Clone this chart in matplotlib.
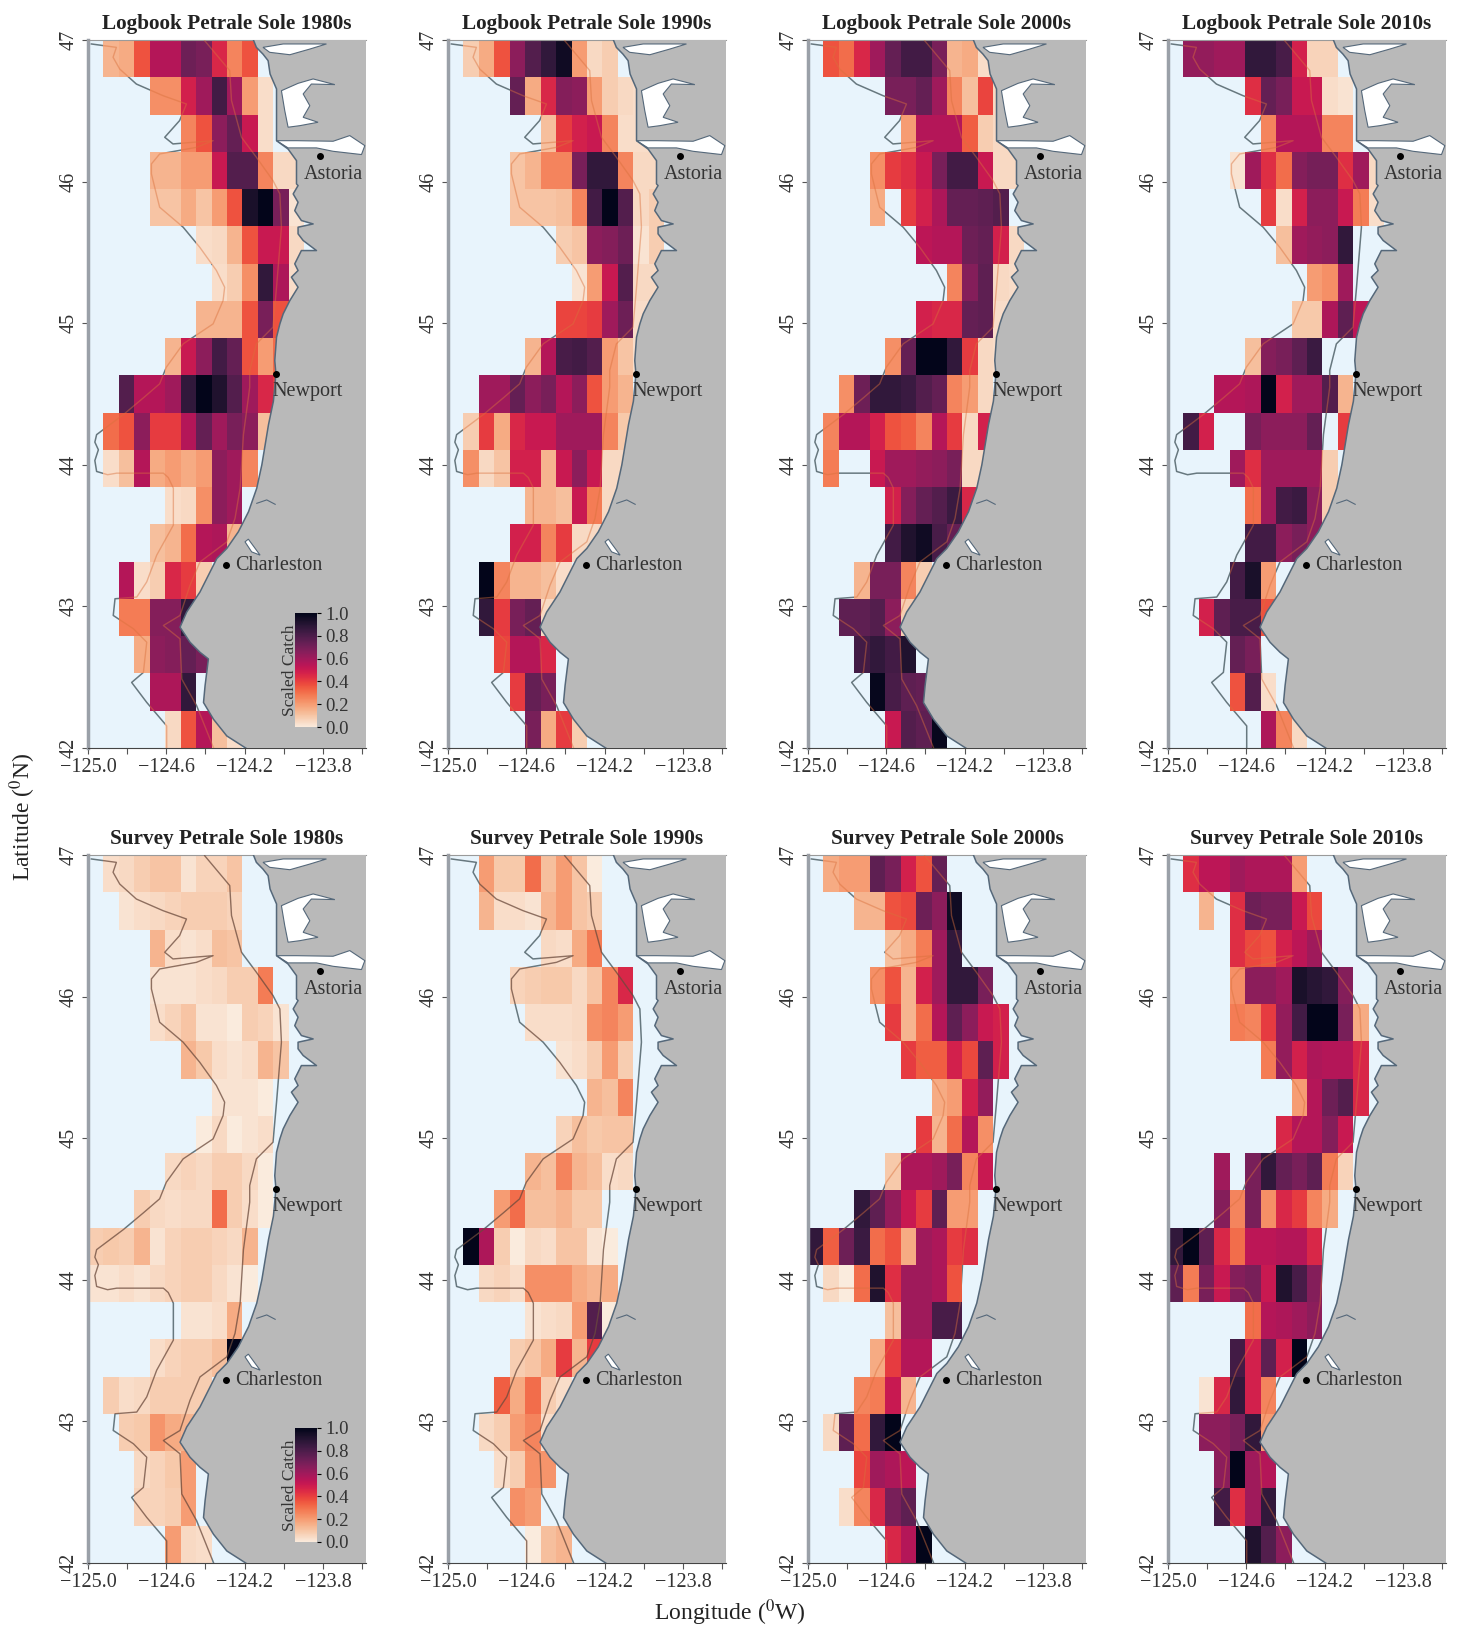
import numpy as np
import matplotlib
matplotlib.use('Agg')
import matplotlib.pyplot as plt
import seaborn as sns
from matplotlib.path import Path

plt.rcParams['font.family'] = ['Liberation Serif', 'DejaVu Serif']
plt.rcParams['mathtext.fontset'] = 'stix'

n = np.nan

# scaled catch x100, rows go north to south, columns west to east
logbook_1980s = [
 [n,10,12,30,50,50,68,65,40,20,30],
 [n,n,n,n,18,18,42,55,80,55,15,2],
 [n,n,n,n,n,n,20,30,60,70,45,2],
 [n,n,n,n,10,10,15,15,45,75,75,20,3,3],
 [n,n,n,n,7,7,12,7,15,30,92,100,65,1],
 [n,n,n,n,n,n,n,2,3,10,30,45,45,3],
 [n,n,n,n,n,n,n,n,2,5,18,85,52,2],
 [n,n,n,n,n,n,n,10,10,10,30,65,30],
 [n,n,n,n,n,10,45,60,80,70,30,15,25],
 [n,n,75,50,50,55,85,100,90,75,55,40,35],
 [n,25,30,60,35,35,50,70,55,65,60,8],
 [n,2,8,50,12,15,12,15,60,55,20],
 [n,n,n,n,n,2,3,18,60,55],
 [n,n,n,n,8,10,25,50,52,10],
 [n,n,50,2,5,40,35,5],
 [n,n,22,22,62,62,85],
 [n,n,n,12,60,62,70,65],
 [n,n,n,n,52,52,85],
 [n,n,n,n,n,3,30,50,8,2],
]
logbook_1990s = [
 [n,5,12,30,60,75,85,95,15,3,5],
 [n,n,n,n,70,12,40,62,60,15,5,3,2],
 [n,n,n,n,n,n,8,35,42,45,20,2,2],
 [n,n,n,n,7,10,20,20,65,85,85,20,3,3],
 [n,n,n,n,7,7,7,8,20,80,100,75,3,5],
 [n,n,n,n,n,n,n,5,7,60,62,68,1,5],
 [n,n,n,n,n,n,n,n,1,15,45,75,3,3],
 [n,n,n,n,n,n,n,33,33,35,55,68,2],
 [n,n,n,n,n,10,50,78,80,75,15,7,2],
 [n,n,55,55,70,60,65,50,60,30,15,10],
 [n,5,35,12,40,45,45,55,55,55,20,6],
 [n,18,3,7,42,42,10,45,60,45,3,3],
 [n,n,n,n,n,10,10,8,45,22,3],
 [n,n,n,n,42,42,20,35,3,3],
 [n,n,100,20,10,10,8,2],
 [n,n,85,35,65,70,3],
 [n,n,n,33,50,50,40],
 [n,n,n,n,35,70,65],
 [n,n,n,n,n,65,12,35,5],
]
logbook_2000s = [
 [n,30,25,40,55,70,80,80,65,10,12,2],
 [n,n,n,n,n,65,65,70,55,20,8,33,3],
 [n,n,n,n,n,n,15,50,50,50,28,5,3],
 [n,n,n,n,18,35,38,45,65,80,80,45,3,3],
 [n,n,n,n,12,n,35,42,52,70,70,72,75],
 [n,n,n,n,n,n,n,48,50,50,68,70,42,3],
 [n,n,n,n,n,n,n,n,n,20,62,72,3,2],
 [n,n,n,n,n,n,n,42,40,40,70,72,2],
 [n,n,n,n,n,18,70,100,100,85,35,3,2],
 [n,n,18,68,85,85,82,75,70,20,15,3],
 [n,20,50,50,42,30,28,20,50,35,3,42],
 [n,22,n,n,45,55,55,58,60,65,3,3],
 [n,n,n,n,n,42,62,70,75,82,40],
 [n,n,n,n,n,80,90,95,78,70],
 [n,n,n,10,65,65,20,5],
 [n,n,72,72,75,60,5],
 [n,n,n,80,85,80,90],
 [n,n,n,n,98,78,72,70],
 [n,n,n,n,n,45,75,72,98],
]
logbook_2010s = [
 [n,58,58,55,55,85,85,78,42,4,4],
 [n,n,n,n,n,38,70,65,45,45,2,1],
 [n,n,n,n,n,n,20,50,50,50,20,20],
 [n,n,n,n,1,55,38,25,62,66,66,38,55,3],
 [n,n,n,n,n,n,35,2,42,60,60,45,22,2],
 [n,n,n,n,n,n,n,8,55,58,60,85],
 [n,n,n,n,n,n,n,n,n,15,18,55],
 [n,n,n,n,n,n,n,n,6,6,52,72,48],
 [n,n,n,n,n,8,62,65,72,82],
 [n,n,n,50,50,52,100,42,55,55,75,10],
 [n,80,42,n,n,65,60,60,60,70,n,35],
 [n,n,n,n,55,38,55,55,55,55,5],
 [n,n,n,n,n,25,55,80,82,60,5],
 [n,n,n,n,n,80,80,60,65,60],
 [n,n,n,n,80,92,15],
 [n,n,42,72,78,78,30],
 [n,n,n,n,70,65],
 [n,n,n,n,30,75,2],
 [n,n,n,n,n,n,52,20,3],
]
survey_1980s = [
 [n,2,3,5,7,7,1,4,4,7],
 [n,n,1,2,3,4,5,5,5,4],
 [n,n,n,n,10,2,1,2,8,7],
 [n,n,n,n,1,1,1,2,3,5,5,22],
 [n,n,n,n,2,4,7,1,1,0,5,4,1],
 [n,n,n,n,n,n,10,6,2,1,2,10,7],
 [n,n,n,n,n,n,n,n,1,1,1,0],
 [n,n,n,n,n,n,n,0,3,0,1,2],
 [n,n,n,n,n,3,4,3,5,5,3,0],
 [n,n,n,5,3,2,3,3,25,5,2,0],
 [5,6,5,10,1,4,5,5,4,3,10],
 [1,1,2,1,3,4,5,5,3,1,0],
 [n,n,n,n,n,n,1,1,2,12],
 [n,n,n,n,2,4,5,5,8,100],
 [n,5,2,3,5,5,5,5],
 [n,n,5,6,17,12,10],
 [n,n,n,3,4,6,15],
 [n,n,n,4,4,5,15],
 [n,n,n,n,n,15,3,2],
]
survey_1990s = [
 [n,n,15,6,6,25,8,15,7,0],
 [n,n,10,2,2,1,10,15,7,5],
 [n,n,n,n,n,n,3,2,12,22],
 [n,n,n,n,4,5,6,6,3,7,20,40],
 [n,n,n,n,n,2,2,2,3,18,20,15],
 [n,n,n,n,n,n,n,1,2,5,15,5],
 [n,n,n,n,n,n,n,n,n,10,8,20],
 [n,n,n,n,n,n,n,4,8,6,7,7],
 [n,n,n,n,n,10,8,20,10,8,2,3],
 [n,n,n,15,25,8,8,10,6,6],
 [n,100,52,5,0,3,2,7,7,1,0],
 [n,n,3,4,2,18,18,18,12,10,12],
 [n,n,n,n,n,1,2,3,15,75,0],
 [n,n,n,n,5,7,12,35,10,35],
 [n,n,n,28,12,25,5,2],
 [n,n,3,5,15,20,2],
 [n,n,n,2,5,18,17],
 [n,n,n,n,18,15],
 [n,n,n,n,n,0,8,10],
]
survey_2000s = [
 [n,12,15,15,72,65,42,30,70],
 [n,n,n,10,10,30,32,68,60,95],
 [n,n,n,n,n,8,12,22,55,85],
 [n,n,n,n,18,30,10,42,55,85,85,65],
 [n,n,n,n,n,35,10,25,50,72,60,45,42],
 [n,n,n,n,n,n,35,28,28,42,32,72,42],
 [n,n,n,n,n,n,n,n,12,15,42,58],
 [n,n,n,n,n,n,n,35,10,25,50,18],
 [n,n,n,n,n,6,52,52,55,65,20,45],
 [n,n,n,85,72,58,45,35,72,15,15],
 [85,28,68,82,25,30,12,55,52,35,38],
 [n,3,0,25,90,38,55,55,52,30],
 [n,n,n,n,n,8,55,55,78,78],
 [n,n,n,n,12,35,50,50],
 [n,n,n,20,22,45,10],
 [n,3,72,25,85,100],
 [n,n,n,33,55,52,48],
 [n,n,2,20,40,65,72],
 [n,n,n,n,n,40,50,100],
]
survey_2010s = [
 [n,38,48,48,55,52,52,52,15],
 [n,n,10,n,38,68,65,65,45,32],
 [n,n,n,n,38,32,30,42,48,55],
 [n,n,n,n,18,60,60,55,92,88,85,62],
 [n,n,n,n,22,20,35,58,80,100,100,65,12],
 [n,n,n,n,n,n,22,58,42,52,50,50,40],
 [n,n,n,n,n,n,n,n,15,50,68,75,40],
 [n,n,n,n,n,n,n,40,50,50,62,45],
 [n,n,n,55,n,65,85,70,65,72,22,4],
 [n,n,n,62,20,65,18,40,35,20,12],
 [85,100,72,40,25,48,48,50,50,40],
 [72,22,65,45,62,65,45,90,78,62],
 [n,n,n,n,n,25,50,52,55,60],
 [n,n,n,n,80,42,72,42,100],
 [n,n,1,40,85,42,20],
 [n,n,60,60,65,85,15],
 [n,n,n,60,100,55,50],
 [n,n,n,80,38,55,85],
 [n,n,n,n,n,90,75,60],
]

titles = ['Logbook Petrale Sole 1980s', 'Logbook Petrale Sole 1990s',
          'Logbook Petrale Sole 2000s', 'Logbook Petrale Sole 2010s',
          'Survey Petrale Sole 1980s', 'Survey Petrale Sole 1990s',
          'Survey Petrale Sole 2000s', 'Survey Petrale Sole 2010s']
panels = [logbook_1980s, logbook_1990s, logbook_2000s, logbook_2010s,
          survey_1980s, survey_1990s, survey_2000s, survey_2010s]

lat_ticks = [47, 46, 45, 44, 43, 42]
lon_ticks = [-125.0, -124.8, -124.6, -124.4, -124.2, -124.0, -123.8, -123.6]
lon_labels = ['\u2212125.0', '', '\u2212124.6', '', '\u2212124.2', '', '\u2212123.8', '']
cbar_ticks = [0.0, 0.2, 0.4, 0.6, 0.8, 1.0]

cities = ['Astoria', 'Newport', 'Charleston']
city_lon = [-123.816, -124.04, -124.295]
city_lat = [46.18, 44.64, 43.29]
label_lon = [-123.90, -124.06, -124.25]
label_lat = [46.05, 44.52, 43.29]

coast_lon = [-124.157,-124.14,-124.106,-124.08,-124.07,-124.037,-124.037,-123.978,-123.935,-123.935,
             -123.927,-123.952,-123.927,-123.944,-123.91,-123.85,-123.927,-123.927,-123.901,-123.833,-123.91,
             -123.944,-123.927,-123.961,-123.927,-123.969,-124.003,-124.02,-124.037,-124.046,-124.04,
             -124.053,-124.078,-124.095,-124.112,-124.138,-124.18,-124.232,-124.291,-124.342,-124.385,-124.428,
             -124.496,-124.53,-124.479,-124.428,-124.385,-124.402,-124.41,-124.359,-124.291,-124.189]
coast_lat = [47.007,46.948,46.9,46.854,46.76,46.654,46.289,46.23,46.148,45.984,
             45.972,45.913,45.854,45.795,45.725,45.701,45.678,45.631,45.584,45.513,45.513,
             45.419,45.372,45.325,45.254,45.16,45.066,44.995,44.901,44.736,44.642,
             44.449,44.284,44.142,44.0,43.835,43.669,43.527,43.409,43.338,43.22,43.102,
             42.96,42.853,42.747,42.676,42.629,42.44,42.321,42.203,42.085,41.995]

outer_lon = [-124.983,-124.855,-124.872,-124.838,-124.753,-124.617,-124.497,-124.532,-124.608,-124.566,-124.361,
             -124.446,-124.634,-124.676,-124.676,-124.651,-124.634,-124.514,-124.429,-124.344,-124.302,-124.31,
             -124.361,-124.514,-124.6,-124.634,-124.717,-124.819,-124.956,-124.965,-124.947,-124.965,-124.956,
             -124.90,-124.853,-124.615,-124.59,-124.564,-124.564,-124.649,-124.7,-124.751,-124.862,-124.871,
             -124.768,-124.7,-124.717,-124.777,-124.7,-124.598,-124.598]
outer_lat = [46.972,46.948,46.878,46.795,46.689,46.607,46.548,46.431,46.313,46.266,46.289,
             46.242,46.195,46.125,46.054,45.913,45.819,45.678,45.536,45.372,45.254,45.16,
             44.995,44.854,44.689,44.572,44.473,44.355,44.213,44.16,44.106,44.03,43.953,
             43.93,43.941,43.941,43.91,43.835,43.574,43.362,43.173,43.066,43.054,42.936,
             42.842,42.747,42.534,42.463,42.322,42.156,41.995]
inner_lon = [-124.404,-124.276,-124.267,-124.216,-124.14,-124.055,-124.02,-124.012,-124.037,-124.055,-124.14,
             -124.174,-124.174,-124.181,-124.206,-124.223,-124.249,-124.291,-124.428,-124.479,-124.53,-124.615,
             -124.53,-124.521,-124.445,-124.359]
inner_lat = [46.995,46.784,46.572,46.313,46.172,46.007,45.913,45.678,45.254,44.972,44.854,
             44.666,44.548,44.473,44.213,43.835,43.622,43.456,43.314,43.149,42.936,42.865,
             42.771,42.487,42.298,42.002]

grays_lon = [-124.106,-124.003,-123.782,-123.867,-123.969,-124.072]
grays_lat = [46.948,46.972,46.972,46.936,46.896,46.913]
willapa_lon = [-124.012,-123.927,-123.85,-123.739,-123.859,-123.901,-123.867,-123.901,-123.825,-123.918,-123.978,-123.995]
willapa_lat = [46.642,46.694,46.725,46.685,46.689,46.619,46.536,46.454,46.419,46.395,46.384,46.501]
columbia_lon = [-124.037,-123.935,-123.748,-123.663,-123.586,-123.603,-123.748,-123.833,-123.978]
columbia_lat = [46.289,46.289,46.285,46.325,46.254,46.191,46.214,46.238,46.238]
coos_lon = [-124.198,-124.181,-124.121,-124.164]
coos_lat = [43.456,43.475,43.362,43.385]
siuslaw_lon = [-124.138,-124.087,-124.044]
siuslaw_lat = [43.728,43.752,43.721]

W, H = 1458.0, 1629.0
lefts = [88, 448, 808, 1168]
tops = [40, 855]
ax_w, ax_h = 278, 708
lon_min, lon_max = -125.0, -123.58
lat_max, lat_min = 47.0, 42.0
lon_edges = np.linspace(lon_min, lon_max, 19)
lat_edges = np.linspace(lat_max, lat_min, 20)

ocean = '#e8f4fc'
land = '#b9b9b9'
edge = '#55687a'
fs = 14.5
cmap = sns.color_palette('rocket_r', as_cmap=True)

fig = plt.figure(figsize=(14.58, 16.29), dpi=100)

for i in range(8):
    top = tops[i // 4]
    ax = fig.add_axes([lefts[i % 4] / W, 1 - (top + ax_h) / H, ax_w / W, ax_h / H])
    ax.set_facecolor(ocean)

    grid = np.full((19, 18), np.nan)
    for r, row in enumerate(panels[i]):
        grid[r, :len(row)] = row
    # my colour readings came out a bit low against the colorbar
    grid = (grid / 100.0) ** 0.85

    # contours go under the cells, then again on top clipped to the cells
    ax.plot(outer_lon, outer_lat, color='#67787f', lw=1.1, zorder=1)
    ax.plot(inner_lon, inner_lat, color='#67787f', lw=1.1, zorder=1)
    mesh = ax.pcolormesh(lon_edges, lat_edges, np.ma.masked_invalid(grid), cmap=cmap,
                         vmin=0, vmax=1, zorder=2, linewidth=0, rasterized=True)

    verts, codes = [], []
    for r, c in zip(*np.where(~np.isnan(grid))):
        verts += [(lon_edges[c], lat_edges[r]), (lon_edges[c + 1], lat_edges[r]),
                  (lon_edges[c + 1], lat_edges[r + 1]), (lon_edges[c], lat_edges[r + 1]),
                  (lon_edges[c], lat_edges[r])]
        codes += [Path.MOVETO, Path.LINETO, Path.LINETO, Path.LINETO, Path.CLOSEPOLY]
    cells = Path(verts, codes)
    over = '#6b4a3c' if i in (4, 5) else '#d9703c'
    alpha = 0.75 if i in (4, 5) else 0.45
    for xs, ys in [(outer_lon, outer_lat), (inner_lon, inner_lat)]:
        l, = ax.plot(xs, ys, color=over, lw=1.0, alpha=alpha, zorder=3)
        l.set_clip_path(cells, ax.transData)

    land_x = coast_lon + [lon_max + 0.05, lon_max + 0.05]
    land_y = coast_lat + [lat_min - 0.05, lat_max + 0.05]
    ax.fill(land_x, land_y, color=land, lw=0, zorder=4)
    ax.plot(coast_lon, coast_lat, color=edge, lw=1.1, zorder=6)
    for bx, by in [(grays_lon, grays_lat), (willapa_lon, willapa_lat),
                   (columbia_lon, columbia_lat), (coos_lon, coos_lat)]:
        ax.fill(bx, by, facecolor='white', edgecolor=edge, lw=0.8, zorder=5)
    ax.plot(siuslaw_lon, siuslaw_lat, color=edge, lw=0.8, zorder=5)

    ax.plot(city_lon, city_lat, 'o', color='black', ms=4, zorder=7)
    for name, x, y in zip(cities, label_lon, label_lat):
        ax.text(x, y, name, fontsize=fs, color='#333333', va='center', ha='left', zorder=8)

    ax.set_xlim(lon_min, lon_max)
    ax.set_ylim(lat_min, lat_max)
    ax.set_xticks(lon_ticks)
    ax.set_xticklabels(lon_labels, fontsize=fs, color='#333333')
    ax.set_yticks(lat_ticks)
    ax.set_yticklabels([str(v) for v in lat_ticks], fontsize=fs, color='#333333',
                       rotation=90, va='center')
    ax.tick_params(axis='both', length=4, width=0.8, color='#555555', pad=3)
    ax.spines['right'].set_visible(False)
    ax.spines['top'].set_color('#9a9a9a')
    ax.spines['left'].set_color('#9aa0a8')
    ax.spines['left'].set_linewidth(2.5)
    ax.spines['bottom'].set_color('#444444')
    ax.set_title(titles[i], fontsize=15.3, fontweight='bold', color='#222222', pad=8)

    if i % 4 == 0:
        cax = fig.add_axes([295 / W, 1 - (top + 687) / H, 22 / W, 114 / H])
        cb = fig.colorbar(mesh, cax=cax, ticks=cbar_ticks)
        cb.outline.set_visible(False)
        cb.ax.tick_params(labelsize=13.5, length=3, width=0.8, labelcolor='#333333', pad=3)
        cb.set_label('Scaled Catch', fontsize=12.5, color='#333333', labelpad=-48)
        cax.set_zorder(10)

fig.text(23 / W, 1 - 817 / H, 'Latitude ($^{0}$N)', fontsize=17, rotation=90,
         ha='center', va='center', color='#222222')
fig.text(730 / W, 1 - 1613 / H, 'Longitude ($^{0}$W)', fontsize=17,
         ha='center', va='center', color='#222222')

plt.savefig('out.png', dpi=100)
plt.close()
